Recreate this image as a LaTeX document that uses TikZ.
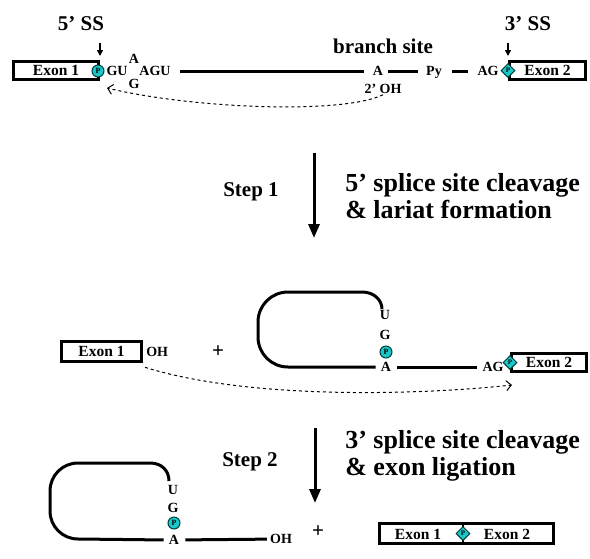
\documentclass[tikz,border=0pt]{standalone}
\usepackage{fontspec}
\setmainfont{Liberation Serif}
\usepackage{tikz}
\usetikzlibrary{positioning, shapes, arrows.meta}
\definecolor{phoscyan}{RGB}{25,200,200}
\definecolor{phosdark}{RGB}{0,60,60}

\begin{document}
\begin{tikzpicture}[x=1pt, y=-1pt, semithick,
    every node/.style={font=\bfseries},
    exon/.style={draw, line width=3pt, inner sep=0pt, font=\fontsize{15.5}{15.5}\selectfont\bfseries},
    exontext/.style={inner sep=0pt, font=\fontsize{15.5}{15.5}\selectfont\bfseries},
    seq/.style={inner sep=1pt, text height=9pt, text depth=0pt, font=\fontsize{14}{14}\selectfont\bfseries},
    big/.style={font=\fontsize{21}{21}\selectfont\bfseries},
    cleave/.style={align=left, inner sep=0pt, font=\fontsize{26}{27}\selectfont\bfseries},
    rna/.style={line width=3pt},
    phos/.style={circle, draw=phosdark, fill=phoscyan, line width=1pt, inner sep=0pt,
      minimum size=12pt, font=\fontsize{8}{8}\selectfont\bfseries},
    phosd/.style={diamond, draw=phosdark, fill=phoscyan, line width=1pt, inner sep=0pt,
      minimum size=14pt, font=\fontsize{7}{7}\selectfont\bfseries},
    pin/.style={line width=1.5pt, -{Triangle[width=6pt,length=6pt]}},
    stepar/.style={line width=3pt, -{Triangle[width=11pt,length=14pt]}},
    attack/.style={dashed, line width=1pt, -{Straight Barb[length=5pt,width=10pt]}}]
  \useasboundingbox (0,0) rectangle (590,558);

  % pre-mRNA
  \node[exon, minimum width=85pt, minimum height=18pt] (ex1a) at (56,70.5) {Exon 1};
  \node[phos] (p1) at (98,71) {P};
  \node[seq] (gu) at (117,71) {GU};
  \node[seq] (bulA) at (134,59) {A};
  \node[seq] (bulG) at (134,84) {G};
  \node[seq] (agu) at (155,71) {AGU};
  \node[seq] (brA) at (378,71) {A};
  \node[seq] (py) at (434,71) {Py};
  \node[seq] (ag1) at (488,71) {AG};
  \node[exon, minimum width=76pt, minimum height=18pt] (ex2a) at (547.5,70.5) {Exon 2};
  \node[phosd] (d1) at (ex2a.west) {P};
  \draw[rna, shorten <=8pt, shorten >=8pt] (agu) -- (brA);
  \draw[rna, shorten <=4pt, shorten >=7pt] (brA) -- (py);
  \draw[rna, shorten <=9pt, shorten >=8pt] (py) -- (ag1);

  \node[big] (ss5) at (81,24) {5' SS};
  \node[big] (ss3) at (528,24) {3' SS};
  \node[big] (branch) at (383,46) {branch site};
  \node[seq] (oh2) at (383,89) {2' OH};
  \draw[pin, shorten <=8pt, shorten >=4pt] (ss5.south -| ex1a.north east) -- (ex1a.north east);
  \draw[pin, shorten <=8pt, shorten >=4pt] (ss3.south -| ex2a.north west) -- (ex2a.north west);
  \coordinate (att5) at (107,88);
  \draw[attack] (oh2.south) .. controls (340,115) and (190,108) .. (att5);

  % step 1
  \node[big] (step1) at (251,192) {Step 1};
  \coordinate (s1top) at (314,153);
  \coordinate (s1bot) at (314,238);
  \draw[stepar] (s1top) -- (s1bot);
  \node[cleave, anchor=west] (what1) at (345,196) {5' splice site cleavage\\\& lariat formation};

  % intermediates
  \node[exon, minimum width=80pt, minimum height=20pt] (ex1b) at (101.5,351.5) {Exon 1};
  \node[seq, right=2pt of ex1b] (oh1) {OH};
  \node[big] (plus1) at (218,352) {+};
  \node[seq] (u2) at (385,315) {U};
  \node[seq] (g2) at (385,335) {G};
  \node[phos] (p2) at (386,352) {P};
  \node[seq] (a2) at (386,367) {A};
  \node[seq] (ag2) at (493,367) {AG};
  \node[exon, minimum width=75pt, minimum height=18pt] (ex2b) at (549,362.5) {Exon 2};
  \node[phosd] (d2) at (ex2b.west) {P};
  \draw[rna, shorten <=5pt, shorten >=4pt] (a2) -- (ag2);
  \draw[rna, shorten <=4pt] (a2.west) -- (288,367) .. controls (271.4,367) and (258,353.6) .. (258,337)
    -- (258,322) .. controls (258,305.4) and (271.4,292) .. (288,292)
    -- (362,292) .. controls (374,292) and (382,300) .. (382,309);
  \coordinate (att3) at (512,385);
  \draw[attack] ([yshift=-10pt]oh1.south west) .. controls (250,400) and (420,395) .. (att3);

  % step 2
  \node[big] (step2) at (250,462) {Step 2};
  \coordinate (s2top) at (315,428);
  \coordinate (s2bot) at (315,503);
  \draw[stepar] (s2top) -- (s2bot);
  \node[cleave, anchor=west] (what2) at (345,455.5) {3' splice site cleavage\\\& exon ligation};

  % products
  \node[seq] (u3) at (173,490) {U};
  \node[seq] (g3) at (173,508) {G};
  \node[phos] (p3) at (174,523) {P};
  \node[seq] (a3) at (174,540) {A};
  \node[seq] (oh3) at (281,539) {OH};
  \draw[rna, shorten <=5pt, shorten >=2pt] (a3) -- (oh3);
  \draw[rna, shorten <=4pt] (a3.west) -- (78,539) .. controls (62.5,539) and (50,526.5) .. (50,511)
    -- (50,491) .. controls (50,475.5) and (62.5,463) .. (78,463)
    -- (150,463) .. controls (162,463) and (169,471) .. (169,481);
  \node[big] (plus2) at (318,532) {+};
  \node[exon, minimum width=174pt, minimum height=20pt] (fused) at (466.5,533.5) {};
  \draw[line width=2pt] (463,533.5 |- fused.north) -- (463,533.5 |- fused.south);
  \node[phosd] (d3) at (463,533.5) {P};
  \node[exontext] (e1c) at (418,534) {Exon 1};
  \node[exontext] (e2c) at (507,534) {Exon 2};
\end{tikzpicture}
\end{document}
